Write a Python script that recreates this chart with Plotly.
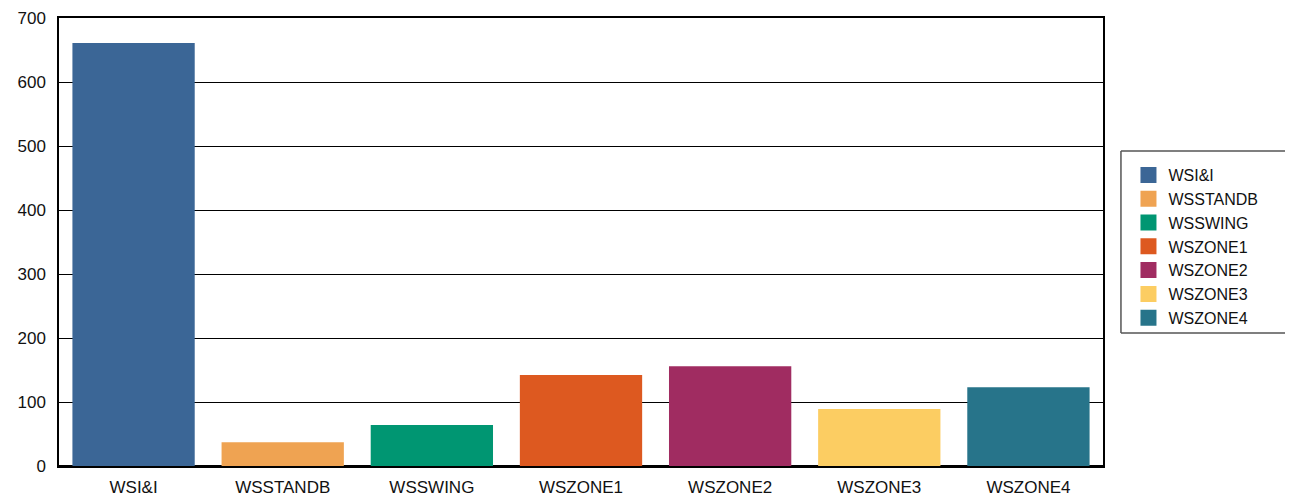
import plotly.graph_objects as go

categories = ["WSI&I", "WSSTANDB", "WSSWING", "WSZONE1", "WSZONE2", "WSZONE3", "WSZONE4"]
values = [661, 37, 64, 142, 156, 89, 123]
colors = ["#3B6696", "#EFA352", "#009672", "#DD5920", "#A02C61", "#FCCD62", "#27748A"]
y_ticks = [0, 100, 200, 300, 400, 500, 600, 700]

FONT = "Liberation Sans, Arial, sans-serif"

fig = go.Figure()
fig.add_trace(go.Bar(
    x=categories, y=values, marker=dict(color=colors, line=dict(width=0)),
    showlegend=False, width=0.82,
))
for c, col in zip(categories, colors):
    fig.add_trace(go.Scatter(
        x=[None], y=[None], mode="markers", name=c,
        marker=dict(symbol="square", size=16, color=col),
    ))

# legend frame: open on the right, running off the page as in the reference
frame = dict(color="#555", width=1.5)
fig.add_shape(type="line", xref="paper", yref="paper", x0=1.0172, x1=1.3, y0=0.703, y1=0.703, line=frame)
fig.add_shape(type="line", xref="paper", yref="paper", x0=1.0172, x1=1.3, y0=0.297, y1=0.297, line=frame)
fig.add_shape(type="line", xref="paper", yref="paper", x0=1.0172, x1=1.0172, y0=0.297, y1=0.703, line=frame)

fig.update_layout(
    width=1285, height=491,
    margin=dict(l=51, r=190, t=10, b=33, autoexpand=False),
    paper_bgcolor="white", plot_bgcolor="white",
    font=dict(family=FONT, size=17, color="#111"),
    legend=dict(
        x=1.0244, xanchor="left", y=0.6875, yanchor="top",
        borderwidth=0, bgcolor="rgba(0,0,0,0)",
        font=dict(size=16, family=FONT),
        tracegroupgap=0, itemsizing="trace",
    ),
    xaxis=dict(
        automargin=False,
        showgrid=False, showline=True, linecolor="black", linewidth=1.5,
        mirror=True, ticks="", ticklabelstandoff=5,
        tickfont=dict(size=17, family=FONT),
    ),
    yaxis=dict(
        automargin=False,
        range=[0, 700], tickvals=y_ticks, showgrid=True, gridcolor="black",
        gridwidth=1, showline=True, linecolor="black", linewidth=1.5,
        mirror=True, ticks="", zeroline=True, zerolinecolor="black", zerolinewidth=2,
        ticklabelstandoff=8, tickfont=dict(size=17, family=FONT),
    ),
)

fig.write_html("out.html")
